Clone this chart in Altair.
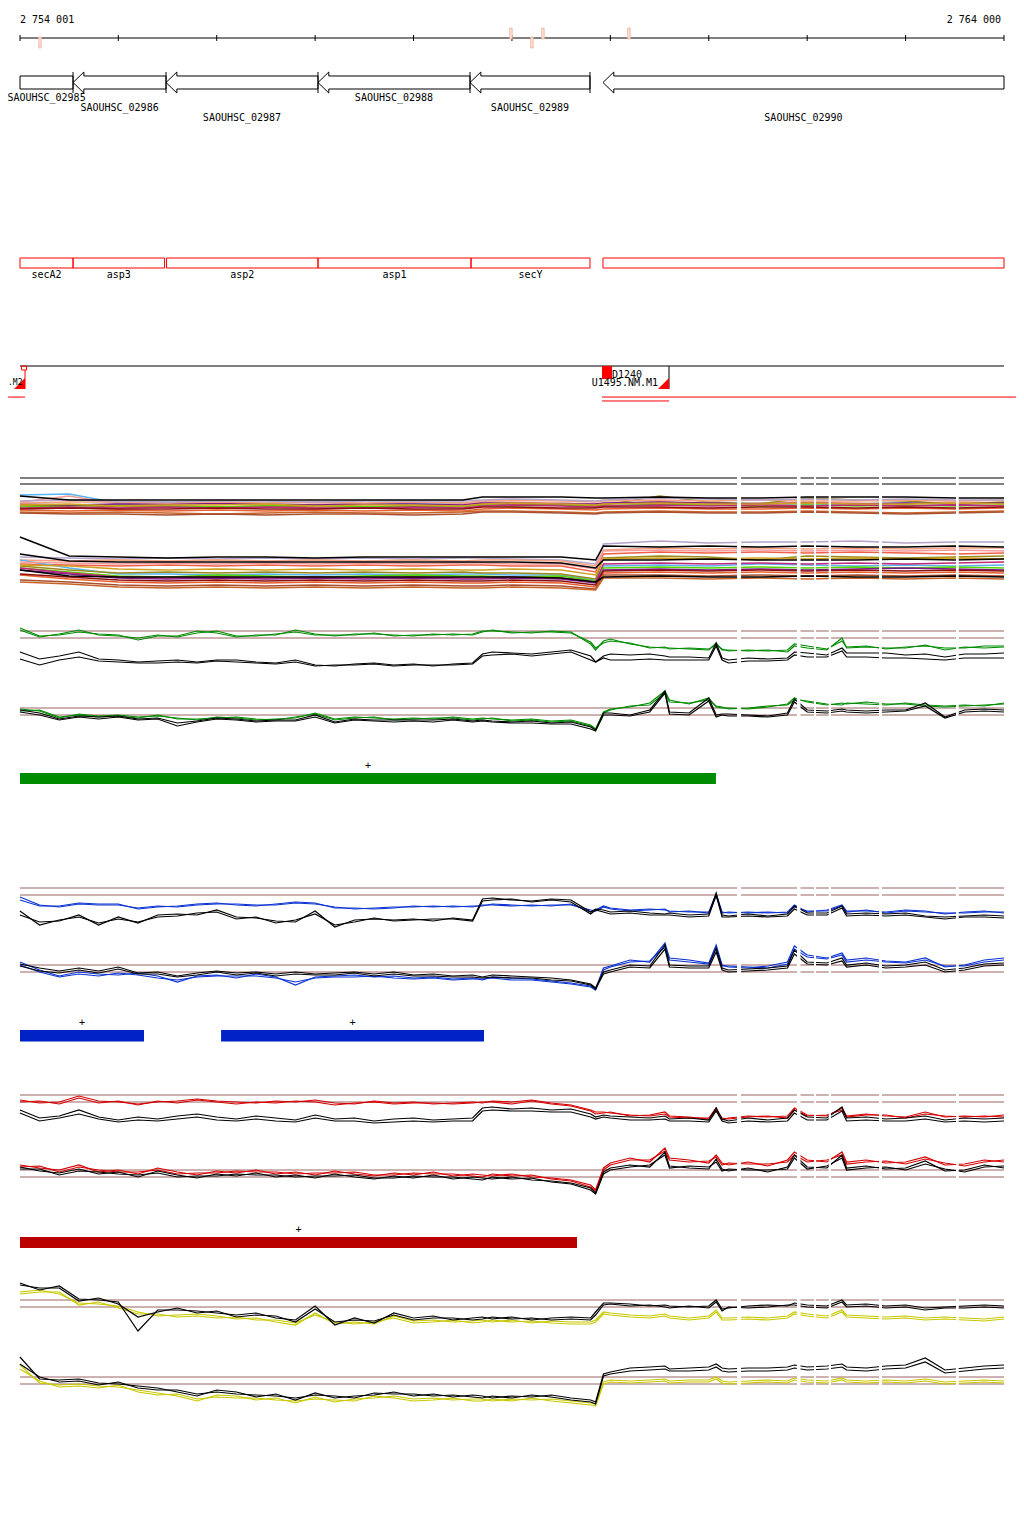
import altair as alt
import pandas as pd

# ----------------------------------------------------------------- data
VIEW_START = 2754001
VIEW_END = 2764000

RULER_TICKS = [2754001, 2755000, 2756000, 2757000, 2758000, 2759000,
               2760000, 2761000, 2762000, 2763000, 2764000]
RULER_LABELS = ["2 754 001", "2 764 000"]

SNP_POS = [2754204, 2758990, 2759203, 2759315, 2760189]
SNP_STRAND = [-1, 1, -1, 1, 1]

GENE_NAMES = ["SAOUHSC_02985", "SAOUHSC_02986", "SAOUHSC_02987",
              "SAOUHSC_02988", "SAOUHSC_02989", "SAOUHSC_02990"]
GENE_START = [2753400, 2754540, 2755485, 2757029, 2758574, 2759925]
GENE_END = [2754540, 2755485, 2757029, 2758574, 2759793, 2764900]
GENE_ROW = [0, 1, 2, 0, 1, 2]

OPERON_NAMES = ["secA2", "asp3", "asp2", "asp1", "secY", ""]
OPERON_START = [2753400, 2754540, 2755490, 2757029, 2758584, 2759925]
OPERON_END = [2754540, 2755470, 2757029, 2758584, 2759793, 2764900]

FEAT_NAMES = [".M2", "U1495.NM.M1"]
FEAT_START = [2751000, 2759915]
FEAT_END = [2754052, 2760596]
PROBE_NAME = "D1240"
PROBE_POS = 2760017
SPAN_LONG = [(2751000, 2754052), (2759915, 2766000)]
SPAN_SHORT = [(2759915, 2760596)]

GREEN_BARS = [(2754001, 2761073)]
BLUE_BARS = [(2754001, 2755261), (2756044, 2758716)]
RED_BARS = [(2754001, 2759661)]

GAP_START = [2761287, 2761896, 2762069, 2762219, 2762730, 2763512]
GAP_END = [2761328, 2761932, 2762090, 2762242, 2762760, 2763540]

THRESHOLDS = [0.0, 0.7]

# sample positions of the signal tracks
POS = [2754000, 2754200, 2754400, 2754600, 2754800, 2755000, 2755200, 2755400, 2755600, 2755800,
       2756000, 2756200, 2756400, 2756600, 2756800, 2757000, 2757200, 2757400, 2757600, 2757800,
       2758000, 2758200, 2758400, 2758600, 2758700, 2758800, 2759000, 2759200, 2759400, 2759600,
       2759800, 2759850, 2759930, 2760000, 2760200, 2760400, 2760555, 2760600, 2760800, 2761000,
       2761075, 2761135, 2761200, 2761400, 2761600, 2761800, 2761870, 2762000, 2762200, 2762354,
       2762400, 2762600, 2762800, 2763000, 2763200, 2763400, 2763600, 2763800, 2764000]

ga_g1 = [1.0, 0.2, 0.3, 0.6, 0.4, 0.3, -0.2, 0.2, 0.2, 0.7,
         0.5, 0.1, 0.3, 0.3, 0.8, 0.4, 0.2, 0.4, 0.4, 0.3,
         0.2, 0.4, 0.3, 0.4, 0.7, 0.7, 0.6, 0.5, 0.7, 0.6,
         -0.6, -1.2, -0.3, -0.1, -0.6, -0.9, -1.0, -1.0, -1.1, -1.2,
         -0.5, -1.2, -1.2, -1.3, -1.2, -1.4, -0.8, -1.0, -1.2, 0.0,
         -1.0, -0.9, -1.0, -1.0, -0.7, -1.2, -0.9, -1.0, -0.9]
ga_g2 = [0.8, 0.1, 0.4, 0.8, 0.3, 0.2, 0.0, 0.3, 0.1, 0.5,
         0.7, 0.2, 0.2, 0.4, 0.6, 0.3, 0.3, 0.3, 0.5, 0.2,
         0.3, 0.3, 0.4, 0.3, 0.6, 0.8, 0.5, 0.6, 0.6, 0.5,
         -0.4, -1.0, -0.5, -0.3, -0.5, -1.0, -0.9, -1.1, -1.0, -1.1,
         -0.7, -1.1, -1.3, -1.2, -1.3, -1.2, -0.6, -0.8, -1.1, -0.3,
         -0.9, -0.8, -1.1, -0.9, -0.8, -1.0, -1.0, -0.8, -0.8]
ga_k1 = [-1.4, -2.1, -1.8, -1.4, -2.1, -2.2, -2.4, -2.3, -2.2, -2.4,
         -2.2, -2.2, -2.4, -2.5, -2.2, -2.7, -2.8, -2.6, -2.5, -2.7,
         -2.6, -2.8, -2.6, -2.5, -1.6, -1.4, -1.5, -1.6, -1.4, -1.2,
         -1.8, -2.4, -1.8, -1.6, -1.7, -1.6, -1.8, -1.9, -1.9, -2.0,
         -0.5, -2.0, -2.2, -2.0, -2.1, -2.0, -1.4, -1.5, -1.7, -1.0,
         -1.5, -1.5, -1.5, -1.7, -1.6, -1.9, -1.6, -1.6, -1.5]
ga_k2 = [-2.1, -2.7, -2.2, -1.9, -2.3, -2.4, -2.5, -2.5, -2.4, -2.5,
         -2.3, -2.4, -2.5, -2.6, -2.4, -2.8, -2.7, -2.7, -2.6, -2.8,
         -2.7, -2.7, -2.7, -2.6, -1.8, -1.7, -1.6, -1.8, -1.6, -1.4,
         -2.2, -2.4, -2.0, -2.2, -2.2, -2.1, -2.2, -2.2, -2.2, -2.2,
         -0.8, -2.2, -2.5, -2.3, -2.3, -2.2, -1.7, -1.9, -1.9, -1.3,
         -1.9, -1.9, -2.0, -2.0, -2.1, -2.2, -2.0, -2.0, -2.0]

gb_g1 = [0.6, 0.4, -0.3, 0.1, -0.1, 0.0, -0.2, -0.1, -0.3, -0.5,
         -0.2, -0.3, -0.5, -0.4, -0.3, 0.2, -0.4, -0.2, -0.3, -0.4,
         -0.3, -0.4, -0.2, -0.4, -0.3, -0.4, -0.5, -0.4, -0.6, -0.5,
         -1.0, -1.4, 0.3, 0.6, 0.8, 1.2, 2.4, 1.5, 1.1, 1.7,
         0.8, 0.7, 0.7, 0.6, 0.8, 1.1, 1.7, 1.3, 1.0, 1.2,
         1.1, 1.3, 1.1, 1.1, 0.9, 0.8, 0.9, 1.0, 1.1]
gb_g2 = [0.4, 0.5, -0.2, 0.0, -0.2, -0.1, -0.3, 0.0, -0.4, -0.4,
         -0.3, -0.2, -0.4, -0.5, -0.2, 0.1, -0.5, -0.3, -0.2, -0.5,
         -0.4, -0.3, -0.3, -0.5, -0.4, -0.3, -0.6, -0.5, -0.7, -0.6,
         -1.1, -1.5, 0.2, 0.5, 0.9, 1.0, 2.2, 1.3, 1.2, 1.5,
         0.9, 0.8, 0.6, 0.7, 0.9, 1.0, 1.5, 1.4, 1.1, 1.0,
         1.2, 1.1, 1.0, 1.2, 1.0, 0.9, 1.0, 0.9, 1.2]
gb_k1 = [0.5, 0.2, -0.4, -0.1, -0.2, -0.1, -0.4, -0.3, -0.8, -0.6,
         -0.3, -0.4, -0.6, -0.5, -0.5, 0.0, -0.7, -0.4, -0.5, -0.5,
         -0.5, -0.5, -0.4, -0.6, -0.5, -0.6, -0.7, -0.6, -0.8, -0.7,
         -1.2, -1.5, 0.2, 0.2, 0.0, 0.5, 2.4, 0.3, 0.2, 1.7,
         0.0, 0.1, 0.1, 0.0, -0.1, 0.2, 1.6, 0.5, 0.4, 0.6,
         0.5, 0.4, 0.5, 0.5, 1.2, -0.2, 0.5, 0.6, 0.5]
gb_k2 = [0.3, 0.0, -0.5, -0.2, -0.4, -0.2, -0.5, -0.4, -1.1, -0.7,
         -0.4, -0.5, -0.7, -0.6, -0.6, -0.2, -0.8, -0.5, -0.6, -0.7,
         -0.6, -0.7, -0.5, -0.7, -0.6, -0.7, -0.8, -0.8, -0.9, -0.9,
         -1.4, -1.6, 0.0, 0.0, -0.1, 0.3, 2.2, 0.1, 0.0, 1.4,
         -0.2, 0.0, -0.1, -0.1, -0.2, 0.0, 1.3, 0.3, 0.2, 0.4,
         0.3, 0.2, 0.3, 0.4, 0.9, -0.3, 0.3, 0.4, 0.3]

ba_b1 = [-0.5, -1.1, -1.1, -0.8, -0.9, -0.9, -1.4, -1.2, -1.1, -0.9,
         -0.8, -1.0, -1.1, -0.9, -0.7, -0.8, -1.3, -1.3, -1.4, -1.3,
         -1.1, -1.2, -1.1, -1.2, -1.0, -1.0, -1.1, -1.0, -1.1, -0.9,
         -1.7, -1.5, -1.1, -1.3, -1.5, -1.4, -1.5, -1.6, -1.7, -1.7,
         0.1, -1.7, -1.8, -1.7, -1.8, -1.7, -1.0, -1.7, -1.5, -1.0,
         -1.6, -1.6, -1.7, -1.5, -1.6, -1.9, -1.7, -1.6, -1.8]
ba_b2 = [-0.2, -1.0, -1.2, -0.9, -1.0, -1.0, -1.3, -1.1, -1.2, -1.0,
         -0.9, -0.9, -1.0, -1.0, -0.8, -0.9, -1.2, -1.4, -1.3, -1.2,
         -1.2, -1.1, -1.2, -1.1, -1.1, -0.9, -1.0, -1.1, -1.0, -1.0,
         -1.5, -1.6, -1.2, -1.4, -1.6, -1.5, -1.4, -1.7, -1.6, -1.8,
         -0.1, -1.8, -1.7, -1.8, -1.7, -1.8, -1.2, -1.6, -1.6, -1.1,
         -1.7, -1.5, -1.8, -1.6, -1.7, -1.8, -1.8, -1.7, -1.7]
ba_k1 = [-2.0, -2.7, -2.6, -2.0, -3.0, -2.2, -2.8, -2.0, -1.9, -2.0,
         -1.5, -2.2, -2.3, -2.6, -2.7, -1.6, -3.2, -2.5, -2.4, -2.5,
         -2.4, -2.6, -2.3, -2.5, -0.4, -0.3, -0.5, -0.6, -0.4, -0.5,
         -1.7, -1.4, -1.5, -1.7, -1.6, -1.8, -1.9, -1.8, -2.0, -1.9,
         0.2, -2.0, -2.1, -1.9, -2.1, -1.9, -1.1, -1.8, -1.8, -1.1,
         -1.9, -1.8, -1.9, -1.8, -2.1, -2.2, -2.1, -2.0, -2.1]
ba_k2 = [-1.6, -3.0, -2.5, -2.2, -2.8, -2.4, -2.7, -2.2, -2.1, -1.8,
         -1.7, -2.4, -2.2, -2.8, -2.5, -1.9, -3.0, -2.7, -2.3, -2.6,
         -2.5, -2.4, -2.4, -2.6, -0.6, -0.5, -0.4, -0.7, -0.5, -0.7,
         -1.9, -1.5, -1.7, -1.9, -1.8, -2.0, -2.0, -2.0, -2.2, -2.1,
         0.0, -2.2, -2.2, -2.1, -2.2, -2.1, -1.4, -2.0, -2.0, -1.3,
         -2.1, -2.0, -2.1, -2.0, -2.2, -2.4, -2.2, -2.2, -2.3]

bb_b1 = [1.0, 0.2, -0.4, 0.0, -0.2, -0.3, -0.1, -0.4, -1.0, -0.4,
         -0.3, -0.6, -0.2, -0.5, -1.3, -0.5, -0.4, -0.3, -0.5, -0.4,
         -0.6, -0.5, -0.7, -0.6, -0.8, -0.5, -0.6, -0.7, -0.9, -1.1,
         -1.4, -1.7, 0.4, 0.6, 1.2, 1.0, 2.9, 1.4, 1.2, 0.9,
         2.7, 0.7, 0.5, 0.4, 0.6, 1.0, 2.6, 1.7, 1.4, 1.9,
         1.2, 1.4, 1.1, 1.0, 1.4, 0.5, 0.7, 1.2, 1.4]
bb_b2 = [0.7, 0.0, -0.5, -0.2, -0.4, -0.1, -0.3, -0.6, -0.8, -0.5,
         -0.4, -0.4, -0.4, -0.6, -1.0, -0.6, -0.5, -0.5, -0.4, -0.6,
         -0.7, -0.6, -0.8, -0.7, -0.7, -0.6, -0.8, -0.8, -1.0, -1.2,
         -1.5, -1.8, 0.2, 0.5, 1.0, 1.1, 2.5, 1.2, 1.0, 0.8,
         2.4, 0.6, 0.6, 0.5, 0.4, 0.8, 2.3, 1.5, 1.3, 1.7,
         1.0, 1.2, 1.0, 0.9, 1.2, 0.6, 0.6, 1.0, 1.2]
bb_k1 = [0.8, 0.4, 0.1, 0.4, 0.1, 0.5, -0.1, 0.0, -0.4, -0.1,
         0.1, -0.1, 0.0, -0.2, 0.0, -0.2, -0.1, 0.0, -0.2, 0.0,
         -0.3, -0.2, -0.4, -0.3, -0.5, -0.3, -0.4, -0.5, -0.6, -0.8,
         -1.2, -1.6, 0.0, 0.2, 0.7, 0.6, 2.7, 0.7, 0.6, 0.6,
         2.4, 0.4, 0.2, 0.3, 0.4, 0.6, 2.2, 1.0, 0.9, 1.4,
         0.7, 0.9, 0.6, 0.7, 1.0, 0.2, 0.4, 0.8, 0.9]
bb_k2 = [0.6, 0.1, -0.1, 0.2, -0.1, 0.3, -0.2, -0.2, -0.5, -0.3,
         0.0, -0.3, -0.1, -0.4, -0.2, -0.3, -0.3, -0.1, -0.4, -0.2,
         -0.4, -0.4, -0.5, -0.5, -0.6, -0.5, -0.6, -0.6, -0.8, -0.9,
         -1.3, -1.7, -0.2, 0.0, 0.5, 0.4, 2.3, 0.5, 0.4, 0.4,
         2.0, 0.2, 0.0, 0.1, 0.2, 0.4, 1.8, 0.8, 0.7, 1.1,
         0.5, 0.7, 0.4, 0.5, 0.7, 0.0, 0.2, 0.6, 0.7]

ra_r1 = [0.2, -0.1, 0.0, 0.6, 0.1, 0.0, -0.2, 0.0, 0.1, 0.3,
         0.1, 0.0, -0.1, 0.1, 0.0, 0.2, -0.1, -0.2, 0.1, -0.1,
         0.0, -0.2, -0.1, 0.0, -0.1, 0.1, 0.0, 0.2, -0.1, -0.3,
         -0.8, -1.0, -1.0, -1.1, -1.3, -1.4, -1.2, -1.5, -1.6, -1.6,
         -0.6, -1.8, -1.6, -1.4, -1.5, -1.4, -0.6, -1.3, -1.4, -0.6,
         -1.4, -1.2, -1.4, -1.5, -1.0, -1.5, -1.4, -1.5, -1.3]
ra_r2 = [0.0, 0.1, -0.2, 0.4, -0.1, 0.1, -0.3, 0.1, -0.1, 0.2,
         0.0, -0.2, 0.0, -0.1, 0.1, 0.0, -0.3, -0.1, 0.0, -0.2,
         -0.1, -0.1, -0.2, -0.1, 0.0, 0.0, -0.2, 0.1, -0.2, -0.4,
         -0.9, -1.2, -1.1, -1.0, -1.4, -1.3, -1.0, -1.4, -1.5, -1.7,
         -0.8, -1.6, -1.7, -1.5, -1.4, -1.6, -0.8, -1.4, -1.3, -0.8,
         -1.5, -1.3, -1.3, -1.6, -1.2, -1.4, -1.5, -1.4, -1.5]
ra_k1 = [-0.8, -1.6, -1.4, -0.8, -1.5, -1.8, -1.5, -1.7, -1.4, -1.2,
         -1.5, -1.7, -1.4, -1.6, -1.8, -1.3, -1.7, -1.6, -1.9, -1.7,
         -1.6, -1.8, -1.7, -1.6, -0.6, -0.5, -0.7, -0.6, -0.8, -0.7,
         -1.2, -1.5, -1.3, -1.4, -1.5, -1.6, -1.4, -1.7, -1.6, -1.8,
         -0.6, -1.7, -1.9, -1.6, -1.8, -1.6, -0.8, -1.5, -1.6, -0.5,
         -1.6, -1.5, -1.7, -1.6, -1.4, -1.8, -1.6, -1.7, -1.6]
ra_k2 = [-1.1, -1.9, -1.6, -1.2, -1.7, -2.0, -1.8, -1.9, -1.7, -1.5,
         -1.8, -1.9, -1.7, -1.9, -2.0, -1.6, -1.9, -1.9, -2.1, -2.0,
         -1.9, -2.0, -1.9, -1.9, -0.9, -0.8, -0.9, -0.9, -1.0, -1.0,
         -1.5, -1.7, -1.5, -1.6, -1.8, -1.8, -1.7, -1.9, -1.9, -2.0,
         -0.9, -1.9, -2.1, -1.9, -2.0, -1.9, -1.1, -1.8, -1.8, -0.9,
         -1.9, -1.8, -1.9, -1.9, -1.7, -2.0, -1.9, -2.0, -1.9]

rb_r1 = [1.2, 0.9, 0.7, 1.2, 0.5, 0.7, 0.3, 0.9, 0.5, 0.2,
         0.6, 0.4, 0.7, 0.3, 0.5, 0.2, 0.6, 0.3, 0.1, 0.4,
         0.2, 0.5, 0.1, 0.3, 0.2, 0.1, 0.3, 0.0, -0.1, -0.3,
         -0.8, -1.3, 0.9, 1.4, 1.9, 1.5, 2.9, 1.9, 1.7, 1.4,
         2.2, 1.4, 1.2, 1.5, 1.1, 1.7, 2.5, 1.7, 1.5, 2.5,
         1.5, 1.7, 1.4, 1.5, 2.0, 1.2, 1.3, 1.7, 1.5]
rb_r2 = [1.0, 1.1, 0.5, 1.0, 0.7, 0.5, 0.5, 0.7, 0.3, 0.4,
         0.4, 0.6, 0.5, 0.5, 0.3, 0.4, 0.4, 0.5, 0.2, 0.2,
         0.4, 0.3, 0.3, 0.1, 0.0, 0.3, 0.1, 0.2, -0.2, -0.4,
         -1.0, -1.4, 0.7, 1.2, 1.7, 1.7, 2.6, 1.7, 1.5, 1.6,
         2.0, 1.2, 1.4, 1.3, 1.3, 1.5, 2.2, 1.5, 1.7, 2.2,
         1.3, 1.5, 1.6, 1.3, 1.8, 1.4, 1.1, 1.5, 1.7]
rb_k1 = [1.0, 0.6, 0.4, 0.8, 0.3, 0.5, 0.0, 0.6, 0.2, -0.1,
         0.3, 0.1, 0.4, 0.0, 0.2, -0.1, 0.3, 0.0, -0.2, 0.1,
         -0.1, 0.2, -0.2, 0.0, -0.1, -0.2, 0.0, -0.3, -0.4, -0.6,
         -1.1, -1.6, 0.5, 0.9, 1.2, 1.0, 2.5, 1.1, 0.9, 0.8,
         1.8, 0.8, 0.6, 0.9, 0.5, 1.0, 2.2, 1.0, 0.9, 2.2,
         0.9, 1.1, 0.8, 0.9, 1.6, 0.6, 0.7, 1.2, 0.9]
rb_k2 = [0.8, 0.8, 0.2, 0.6, 0.5, 0.3, 0.2, 0.4, 0.0, 0.1,
         0.1, 0.3, 0.2, 0.2, 0.0, 0.1, 0.1, 0.2, -0.1, -0.1,
         0.1, 0.0, 0.0, -0.2, -0.3, 0.0, -0.2, -0.1, -0.5, -0.7,
         -1.3, -1.7, 0.3, 0.7, 1.0, 1.2, 2.2, 0.9, 1.1, 1.0,
         1.5, 0.6, 0.8, 0.7, 0.7, 0.8, 1.9, 0.8, 1.1, 1.9,
         0.7, 0.9, 1.0, 0.7, 1.3, 0.8, 0.5, 1.0, 1.1]

ya_k1 = [2.4, 1.7, 2.1, 0.8, 0.7, 0.5, -2.4, -0.3, -0.3, -0.4,
         -0.6, -0.8, -0.6, -1.1, -1.3, 0.1, -1.8, -1.1, -1.6, -0.6,
         -1.1, -0.9, -1.3, -1.1, -1.0, -1.2, -1.0, -1.3, -1.1, -1.0,
         -1.1, -0.5, 0.4, 0.4, 0.3, 0.1, 0.2, 0.1, 0.0, 0.1,
         0.7, -0.2, -0.1, 0.1, 0.2, 0.1, 0.4, 0.2, 0.1, 0.7,
         0.2, 0.3, 0.1, 0.2, -0.1, 0.0, 0.1, 0.2, 0.1]
ya_k2 = [2.2, 1.9, 1.9, 0.6, 0.9, 0.3, -1.0, -0.5, -0.1, -0.6,
         -0.4, -1.0, -0.8, -0.9, -1.5, -0.2, -1.5, -1.3, -1.4, -0.8,
         -1.3, -1.1, -1.1, -1.3, -1.2, -1.0, -1.2, -1.1, -1.3, -1.2,
         -1.3, -0.8, 0.2, 0.3, 0.1, 0.2, 0.0, -0.1, 0.1, -0.1,
         0.5, -0.4, 0.0, -0.1, 0.0, 0.2, 0.2, 0.0, -0.1, 0.5,
         0.0, 0.1, -0.1, 0.0, -0.3, -0.1, -0.1, 0.0, -0.1]
ya_y1 = [1.5, 1.7, 1.3, 0.4, 0.3, 0.1, -0.5, -0.9, -0.8, -0.7,
         -0.9, -1.2, -1.1, -1.5, -1.8, -0.6, -1.7, -1.5, -1.7, -0.9,
         -1.4, -1.3, -1.5, -1.4, -1.3, -1.5, -1.3, -1.6, -1.4, -1.5,
         -1.5, -1.3, -0.5, -0.6, -0.8, -0.9, -0.7, -0.9, -1.1, -0.9,
         -0.3, -1.1, -1.1, -1.0, -1.1, -0.9, -0.5, -0.7, -0.9, -0.3,
         -0.8, -0.9, -1.0, -0.9, -1.1, -1.0, -1.1, -1.2, -1.0]
ya_y2 = [1.3, 1.5, 1.5, 0.2, 0.5, -0.1, -0.7, -0.7, -1.0, -0.9,
         -1.1, -1.0, -1.3, -1.3, -1.6, -0.8, -1.5, -1.7, -1.5, -1.1,
         -1.6, -1.5, -1.3, -1.6, -1.5, -1.3, -1.5, -1.4, -1.6, -1.7,
         -1.7, -1.5, -0.7, -0.8, -1.0, -1.1, -0.9, -1.1, -1.3, -1.1,
         -0.5, -1.3, -1.3, -1.2, -1.3, -1.1, -0.7, -0.9, -1.1, -0.5,
         -1.0, -1.1, -1.2, -1.1, -1.3, -1.2, -1.3, -1.4, -1.2]

yb_k1 = [2.7, 0.5, 0.4, 0.5, 0.1, 0.0, -0.2, -0.4, -0.8, -1.2,
         -0.6, -0.8, -1.3, -1.0, -1.6, -0.9, -1.4, -1.2, -1.1, -0.8,
         -1.2, -1.0, -1.3, -1.1, -1.2, -1.4, -1.2, -1.3, -1.1, -1.4,
         -1.6, -1.8, 1.0, 1.2, 1.6, 1.7, 1.8, 1.5, 1.6, 1.7,
         2.0, 1.6, 1.5, 1.6, 1.6, 1.7, 1.9, 1.7, 1.8, 2.0,
         1.7, 1.6, 1.8, 1.9, 2.6, 1.4, 1.6, 1.8, 1.9]
yb_k2 = [2.0, 0.7, 0.2, 0.3, -0.1, 0.2, -0.4, -0.6, -0.6, -1.0,
         -0.8, -1.0, -1.1, -1.2, -1.4, -1.1, -1.2, -1.4, -0.9, -1.0,
         -1.0, -1.2, -1.1, -1.3, -1.4, -1.2, -1.4, -1.1, -1.3, -1.6,
         -1.8, -2.0, 0.8, 1.0, 1.3, 1.4, 1.5, 1.3, 1.3, 1.4,
         1.7, 1.3, 1.2, 1.3, 1.3, 1.4, 1.6, 1.4, 1.5, 1.7,
         1.4, 1.3, 1.5, 1.6, 2.2, 1.1, 1.3, 1.5, 1.6]
yb_y1 = [1.9, 0.1, -0.1, 0.0, -0.2, -0.3, -0.6, -0.9, -1.2, -1.7,
         -1.1, -1.2, -1.6, -1.4, -1.9, -1.3, -1.8, -1.5, -1.4, -1.2,
         -1.5, -1.4, -1.6, -1.5, -1.5, -1.7, -1.5, -1.6, -1.5, -1.7,
         -1.9, -2.0, 0.2, 0.4, 0.3, 0.4, 0.5, 0.3, 0.4, 0.4,
         0.7, 0.3, 0.2, 0.3, 0.4, 0.3, 0.6, 0.4, 0.3, 0.6,
         0.4, 0.3, 0.4, 0.3, 0.5, 0.2, 0.3, 0.4, 0.3]
yb_y2 = [1.5, 0.3, -0.3, -0.2, -0.4, -0.1, -0.8, -1.1, -1.0, -1.5,
         -1.3, -1.4, -1.4, -1.6, -1.7, -1.5, -1.6, -1.7, -1.2, -1.4,
         -1.7, -1.6, -1.4, -1.7, -1.7, -1.5, -1.7, -1.4, -1.7, -1.9,
         -2.1, -2.2, 0.0, 0.2, 0.1, 0.2, 0.3, 0.1, 0.2, 0.2,
         0.5, 0.1, 0.0, 0.1, 0.2, 0.1, 0.4, 0.2, 0.1, 0.4,
         0.2, 0.1, 0.2, 0.1, 0.3, 0.0, 0.1, 0.2, 0.1]

# multi-sample expression bundles
B_POS = [2754000, 2754500, 2755000, 2755500, 2756000, 2756500, 2757000, 2757500,
         2758000, 2758500, 2758700, 2759000, 2759500, 2759850, 2759930, 2760500,
         2761000, 2761500, 2762000, 2762500, 2763000, 2763500, 2764000]
BUNDLE1 = {
    "skyblue": [21, 22, 13, 14, 12, 13, 14, 12, 13, 13, 12, 12, 13, 11, 12, 13, 12, 13, 12, 12, 13, 12, 13],
    "pink": [14, 20, 12, 11, 12, 11, 12, 12, 11, 12, 14, 14, 13, 12, 12, 14, 12, 13, 14, 13, 12, 14, 13],
    "olive": [10, 11, 9, 10, 9, 10, 9, 9, 10, 9, 12, 12, 11, 10, 11, 20, 14, 12, 18, 16, 15, 12, 14],
    "green": [9, 10, 11, 10, 9, 10, 11, 9, 10, 10, 11, 10, 11, 9, 10, 12, 11, 10, 11, 10, 11, 10, 11],
    "purple": [12, 11, 12, 12, 13, 12, 11, 12, 12, 11, 13, 13, 12, 12, 13, 14, 13, 12, 13, 12, 13, 12, 13],
    "magenta": [8, 9, 8, 9, 8, 9, 8, 8, 9, 8, 10, 11, 10, 9, 10, 11, 10, 11, 10, 11, 10, 11, 10],
    "orangered": [6, 5, 6, 5, 6, 5, 6, 5, 6, 5, 7, 8, 7, 6, 7, 8, 7, 7, 8, 7, 8, 7, 8],
    "chocolate": [4, 3, 4, 3, 2, 3, 4, 3, 3, 4, 5, 5, 4, 3, 4, 5, 4, 4, 5, 4, 3, 4, 5],
    "salmon": [13, 14, 14, 13, 14, 13, 14, 13, 14, 13, 15, 16, 15, 14, 15, 16, 15, 16, 15, 15, 16, 15, 16],
    "lavender": [15, 16, 15, 14, 15, 15, 14, 15, 15, 15, 16, 17, 16, 15, 16, 18, 17, 16, 17, 16, 17, 16, 16],
    "darkred": [7, 8, 7, 7, 8, 7, 7, 8, 7, 7, 9, 9, 8, 8, 9, 9, 8, 9, 9, 8, 9, 8, 9],
    "gold": [11, 12, 10, 11, 11, 12, 10, 11, 11, 10, 12, 13, 12, 11, 12, 13, 12, 12, 13, 12, 12, 13, 12],
    "brown": [3, 2, 2, 1, 2, 1, 2, 2, 1, 2, 4, 4, 3, 2, 3, 4, 3, 3, 4, 3, 2, 3, 4],
    "black": [20, 16, 16, 16, 16, 16, 16, 16, 16, 16, 19, 19, 19, 18, 18, 19, 18, 18, 19, 19, 19, 18, 18],
}
BUNDLE1_CAPS = [38, 32]
BUNDLE2 = {
    "lavender": [33, 32, 31, 32, 31, 32, 31, 32, 31, 32, 32, 31, 30, 26, 46, 49, 47, 48, 48, 49, 47, 48, 48],
    "salmon": [30, 29, 30, 29, 30, 29, 30, 29, 30, 29, 30, 30, 29, 24, 40, 42, 41, 42, 41, 42, 41, 42, 42],
    "tomato": [26, 25, 24, 25, 24, 25, 24, 25, 24, 25, 25, 24, 24, 18, 36, 38, 37, 38, 37, 38, 37, 36, 37],
    "skyblue": [30, 22, 16, 16, 15, 16, 15, 16, 15, 16, 16, 15, 15, 10, 24, 25, 24, 26, 25, 24, 25, 24, 25],
    "green": [22, 18, 14, 13, 15, 14, 13, 14, 15, 14, 14, 13, 14, 9, 22, 23, 22, 23, 22, 23, 22, 23, 22],
    "olive": [24, 20, 17, 18, 17, 18, 17, 18, 17, 18, 17, 17, 16, 11, 32, 34, 33, 30, 34, 33, 32, 33, 34],
    "purple": [20, 16, 12, 11, 12, 11, 12, 11, 12, 11, 11, 12, 11, 7, 20, 21, 20, 21, 20, 21, 22, 21, 20],
    "magenta": [22, 17, 13, 12, 13, 12, 13, 12, 13, 12, 12, 13, 12, 8, 26, 27, 26, 27, 26, 27, 26, 27, 28],
    "orangered": [15, 11, 8, 7, 8, 7, 8, 7, 8, 7, 7, 8, 7, 3, 17, 18, 17, 18, 17, 18, 17, 18, 17],
    "brown": [10, 8, 5, 4, 5, 4, 5, 4, 5, 4, 4, 5, 4, 1, 15, 15, 14, 15, 14, 15, 14, 15, 14],
    "darkred": [16, 13, 10, 9, 10, 9, 10, 9, 10, 9, 9, 10, 9, 5, 19, 20, 19, 20, 19, 20, 19, 20, 19],
    "pink": [28, 27, 26, 27, 26, 27, 26, 27, 26, 27, 27, 26, 26, 21, 39, 40, 39, 40, 39, 40, 39, 40, 39],
    "gold": [25, 24, 21, 20, 21, 20, 21, 20, 21, 20, 20, 21, 20, 15, 31, 32, 31, 32, 31, 32, 31, 32, 31],
    "chocolate": [8, 6, 3, 2, 3, 2, 3, 2, 3, 2, 2, 3, 2, 0, 12, 12, 11, 12, 11, 12, 11, 12, 11],
    "black1": [53, 34, 33, 32, 33, 33, 32, 33, 33, 33, 33, 33, 33, 30, 44, 43, 44, 43, 44, 43, 43, 44, 43],
    "black2": [36, 29, 28, 28, 28, 28, 28, 28, 28, 28, 28, 28, 27, 22, 30, 30, 31, 30, 30, 30, 31, 30, 31],
    "black3": [20, 14, 13, 13, 13, 13, 13, 13, 13, 13, 13, 13, 12, 8, 13, 14, 13, 13, 14, 13, 13, 14, 13],
}

# ----------------------------------------------------------------- styles
FONT = "DejaVu Sans Mono"
BROWN = "#9c6262"
GREEN, BLUE, RED, YELLOW = "#008a00", "#0a32d2", "#d40000", "#c8c800"
BAR_GREEN, BAR_BLUE, BAR_RED = "#008c00", "#0022c4", "#bb0000"
PALETTE = {
    "black": "#000000", "black1": "#000000", "black2": "#000000", "black3": "#000000",
    "skyblue": "#5ab4f0", "pink": "#f49a9a", "olive": "#9a8a1c", "green": "#55d400",
    "purple": "#7a1a8a", "magenta": "#c02878", "orangered": "#e8602c", "chocolate": "#c8642a",
    "salmon": "#f4a080", "lavender": "#b4a4c8", "darkred": "#8b1010", "gold": "#d0a020",
    "brown": "#a85030", "tomato": "#f06048",
}

XS = alt.Scale(domain=[VIEW_START, VIEW_END], range=[12, 996], nice=False, zero=False)


def ysc(lo, hi, page_lo, page_hi):
    return alt.Scale(domain=[lo, hi], range=[page_lo - 8, page_hi - 8], nice=False, zero=False)


def X(field="pos"):
    return alt.X(f"{field}:Q", scale=XS, axis=None)


def Y(field, sc):
    return alt.Y(f"{field}:Q", scale=sc, axis=None)


layers = []

# ---- ruler
ruler_sc = ysc(-1, 1, 41, 35)
layers.append(alt.Chart(pd.DataFrame({"s": [VIEW_START], "e": [VIEW_END], "y": [0]}))
              .mark_rule(color="black").encode(x=X("s"), x2="e", y=Y("y", ruler_sc)))
layers.append(alt.Chart(pd.DataFrame({"pos": RULER_TICKS, "a": -1, "b": 1}))
              .mark_rule(color="black").encode(x=X(), y=Y("a", ruler_sc), y2="b"))
for i, al in enumerate(["left", "right"]):
    layers.append(alt.Chart(pd.DataFrame({"pos": [RULER_TICKS[-1] if i else RULER_TICKS[0]],
                                          "y": [6.0], "t": [RULER_LABELS[i]]}))
                  .mark_text(align=al, baseline="middle", font=FONT, fontSize=10,
                             color="black", dx=(-3 if i else 0))
                  .encode(x=X(), y=Y("y", ruler_sc), text="t:N"))
snp = pd.DataFrame({"s": [p - 12 for p in SNP_POS], "e": [p + 12 for p in SNP_POS],
                    "a": [0.3 if st < 0 else -0.3 for st in SNP_STRAND],
                    "b": [-3.3 if st < 0 else 3.3 for st in SNP_STRAND]})
layers.append(alt.Chart(snp).mark_rect(fill="#fde4dc", stroke="#f2b8a4", strokeWidth=1)
              .encode(x=X("s"), x2="e", y=Y("a", ruler_sc), y2="b"))

# ---- genes
gene_sc = ysc(-1, 1, 93, 72)
HEAD = 110
poly = []
bars = []
labels = []
for name, s, e, row in zip(GENE_NAMES, GENE_START, GENE_END, GENE_ROW):
    vs, ve = max(s, VIEW_START), min(e, VIEW_END)
    if s >= VIEW_START:
        pts = [(s, 0), (s + HEAD, 1), (s + HEAD, 0.62), (ve, 0.62), (ve, -0.62),
               (s + HEAD, -0.62), (s + HEAD, -1), (s, 0)]
    else:
        pts = [(vs, 0.62), (ve, 0.62), (ve, -0.62), (vs, -0.62), (vs, 0.62)]
    for k, (p, v) in enumerate(pts):
        poly.append({"gene": name, "o": k, "pos": p, "y": v})
    if e <= VIEW_END:
        bars.append({"pos": e, "a": -1, "b": 1})
    labels.append({"pos": (vs + ve) / 2, "row": row, "t": name})
layers.append(alt.Chart(pd.DataFrame(poly)).mark_line(color="black", strokeWidth=1)
              .encode(x=X(), y=Y("y", gene_sc), detail="gene:N", order="o:Q"))
layers.append(alt.Chart(pd.DataFrame(bars)).mark_rule(color="black")
              .encode(x=X(), y=Y("a", gene_sc), y2="b"))
layers.append(alt.Chart(pd.DataFrame(labels))
              .mark_text(font=FONT, fontSize=10, baseline="middle", color="black")
              .encode(x=X(), y=Y("row", ysc(0, 2, 97.5, 118)), text="t:N"))

# ---- operons
op_sc = ysc(-1, 1, 268, 258)
ops = pd.DataFrame({"s": [max(s, VIEW_START) for s in OPERON_START],
                    "e": [min(e, VIEW_END) for e in OPERON_END],
                    "t": OPERON_NAMES, "a": -1, "b": 1, "ly": -2.4})
ops["m"] = (ops["s"] + ops["e"]) / 2
layers.append(alt.Chart(ops).mark_rect(fill=None, stroke="#ff0000", strokeWidth=1)
              .encode(x=X("s"), x2="e", y=Y("a", op_sc), y2="b"))
layers.append(alt.Chart(ops).mark_text(font=FONT, fontSize=10, baseline="middle", color="black")
              .encode(x=X("m"), y=Y("ly", op_sc), text="t:N"))

# ---- feature track
ft_sc = ysc(-1, 1, 389, 366)
layers.append(alt.Chart(pd.DataFrame({"s": [VIEW_START], "e": [VIEW_END], "y": [1]}))
              .mark_rule(color="black").encode(x=X("s"), x2="e", y=Y("y", ft_sc)))
spans = pd.DataFrame([{"s": s, "e": e, "y": -1.7} for s, e in SPAN_LONG] +
                     [{"s": s, "e": e, "y": -2.04} for s, e in SPAN_SHORT])
layers.append(alt.Chart(spans).mark_rule(color="#ff0000")
              .encode(x=X("s"), x2="e", y=Y("y", ft_sc)))
layers.append(alt.Chart(pd.DataFrame({"s": [FEAT_END[0] - 35], "e": [FEAT_END[0] + 15],
                                      "a": [1], "b": [0.65]}))
              .mark_rect(fill=None, stroke="#ff0000", strokeWidth=1)
              .encode(x=X("s"), x2="e", y=Y("a", ft_sc), y2="b"))
layers.append(alt.Chart(pd.DataFrame({"s": [FEAT_START[1]], "e": [PROBE_POS],
                                      "a": [1], "b": [-0.13]}))
              .mark_rect(fill="#ff0000").encode(x=X("s"), x2="e", y=Y("a", ft_sc), y2="b"))
ends = pd.DataFrame({"pos": FEAT_END, "a": [0.65, 1], "b": [-1, -1],
                     "c": ["#ff0000", "#000000"], "t": FEAT_NAMES, "ty": -0.48, "my": -0.52})
layers.append(alt.Chart(ends).mark_rule()
              .encode(x=X(), y=Y("a", ft_sc), y2="b", color=alt.Color("c:N", scale=None)))
layers.append(alt.Chart(ends).mark_point(shape="M -1 1 L 1 -1 L 1 1 Z", filled=True, size=121,
                                         color="#ff0000", opacity=1, xOffset=-5.5)
              .encode(x=X(), y=Y("my", ft_sc)))
# the first feature starts left of the view: its name is kept at the left edge
layers.append(alt.Chart(ends.iloc[[1]]).mark_text(font=FONT, fontSize=10, align="right",
                                                  baseline="middle", dx=-11, color="black")
              .encode(x=X(), y=Y("ty", ft_sc), text="t:N"))
layers.append(alt.Chart(ends.iloc[[0]]).mark_text(font=FONT, fontSize=8, align="left",
                                                  baseline="middle", color="black")
              .encode(x=alt.value(0), y=Y("ty", ft_sc), text="t:N"))
layers.append(alt.Chart(pd.DataFrame({"pos": [PROBE_POS], "y": [0.22], "t": [PROBE_NAME]}))
              .mark_text(font=FONT, fontSize=10, align="left", baseline="middle", color="black")
              .encode(x=X(), y=Y("y", ft_sc), text="t:N"))


# ---- expression lines
def lines_layer(series, colors, positions, sc, width=1.2):
    rows = []
    for name, vals in series.items():
        assert len(vals) == len(positions), name
        for p, v in zip(positions, vals):
            rows.append({"pos": p, "value": v, "series": name, "color": colors[name]})
    return (alt.Chart(pd.DataFrame(rows)).mark_line(strokeWidth=width)
            .encode(x=X(), y=Y("value", sc), detail="series:N",
                    color=alt.Color("color:N", scale=None)))


b1_sc = ysc(0, 26, 516, 490)
layers.append(alt.Chart(pd.DataFrame({"s": VIEW_START, "e": VIEW_END, "y": BUNDLE1_CAPS}))
              .mark_rule(color="black").encode(x=X("s"), x2="e", y=Y("y", b1_sc)))
layers.append(lines_layer(BUNDLE1, PALETTE, B_POS, b1_sc, width=1.5))
b2_sc = ysc(0, 50, 590, 540)
layers.append(lines_layer(BUNDLE2, PALETTE, B_POS, b2_sc, width=1.5))

PANELS = [
    ({"g1": ga_g1, "g2": ga_g2, "k1": ga_k1, "k2": ga_k2}, GREEN, 638, 631),
    ({"g1": gb_g1, "g2": gb_g2, "k1": gb_k1, "k2": gb_k2}, GREEN, 715, 708),
    ({"g1": ba_b1, "g2": ba_b2, "k1": ba_k1, "k2": ba_k2}, BLUE, 895, 888),
    ({"g1": bb_b1, "g2": bb_b2, "k1": bb_k1, "k2": bb_k2}, BLUE, 972, 965),
    ({"g1": ra_r1, "g2": ra_r2, "k1": ra_k1, "k2": ra_k2}, RED, 1102, 1095),
    ({"g1": rb_r1, "g2": rb_r2, "k1": rb_k1, "k2": rb_k2}, RED, 1177, 1170),
    ({"g1": ya_y1, "g2": ya_y2, "k1": ya_k1, "k2": ya_k2}, YELLOW, 1307, 1300),
    ({"g1": yb_y1, "g2": yb_y2, "k1": yb_k1, "k2": yb_k2}, YELLOW, 1384, 1377),
]
for series, col, lo, hi in PANELS:
    sc = ysc(0.0, 0.7, lo, hi)
    layers.append(alt.Chart(pd.DataFrame({"s": VIEW_START, "e": VIEW_END, "y": THRESHOLDS}))
                  .mark_rule(color=BROWN).encode(x=X("s"), x2="e", y=Y("y", sc)))
    layers.append(lines_layer(series, {"g1": col, "g2": col, "k1": "#000000", "k2": "#000000"},
                              POS, sc))

# ---- segment bars with strand marks
for segs, col, lo, hi in [(GREEN_BARS, BAR_GREEN, 784, 773), (BLUE_BARS, BAR_BLUE, 1041.5, 1030),
                          (RED_BARS, BAR_RED, 1248, 1237)]:
    sc = ysc(-1, 1, lo, hi)
    d = pd.DataFrame({"s": [a for a, b in segs], "e": [b for a, b in segs], "a": -1, "b": 1,
                      "t": "+"})
    d["m"] = (d["s"] + d["e"]) / 2
    layers.append(alt.Chart(d).mark_rect(color=col).encode(x=X("s"), x2="e",
                                                          y=Y("a", sc), y2="b"))
    layers.append(alt.Chart(d).mark_text(font=FONT, fontSize=10, baseline="middle", dy=-7.5,
                                         color="black")
                  .encode(x=X("m"), y=Y("b", sc), text="t:N"))

# ---- gaps without data
layers.append(alt.Chart(pd.DataFrame({"s": GAP_START, "e": GAP_END}))
              .mark_rect(color="white")
              .encode(x=X("s"), x2="e", y=alt.value(466), y2=alt.value(1394)))

chart = (alt.layer(*layers)
         .resolve_scale(y="independent")
         .properties(width=1008, height=1480, padding=0,
                     autosize=alt.AutoSizeParams(type="none"), background="white")
         .configure_view(stroke=None))

chart.save("out.html", embed_options={"renderer": "svg", "actions": False})
